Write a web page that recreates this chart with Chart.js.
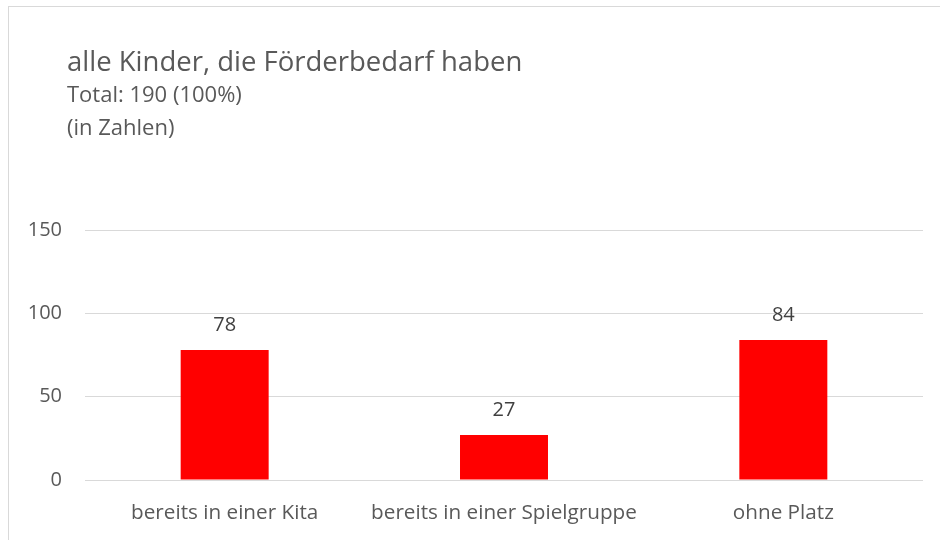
<!DOCTYPE html>
<html>
<head>
<meta charset="utf-8">
<script src="https://cdn.jsdelivr.net/npm/chart.js@4.4.1/dist/chart.umd.min.js"></script>
<style>
  html, body { margin: 0; padding: 0; background: #fff; overflow: hidden; }
  #frame {
    position: absolute; left: 8px; top: 6px; width: 960px; height: 560px;
    border-left: 1px solid #d9d9d9; border-top: 1px solid #d9d9d9;
  }
  #wrap { position: absolute; left: 0; top: 0; width: 940px; height: 540px; }
</style>
</head>
<body>
<div id="frame"></div>
<div id="wrap"><canvas id="chart" width="940" height="540"></canvas></div>
<script>
const categories = ['bereits in einer Kita', 'bereits in einer Spielgruppe', 'ohne Platz'];
const counts = [78, 27, 84];
const yTicks = [0, 50, 100, 150];
const titleText = 'alle Kinder, die Förderbedarf haben';
const subtitleLines = ['Total: 190 (100%)', '(in Zahlen)'];

const FONT = '"Open Sans", Lato, sans-serif';

// title block, drawn left-aligned at the frame's inner margin
const headerPlugin = {
    id: 'header',
    afterDraw(chart) {
        const ctx = chart.ctx;
        ctx.save();
        ctx.fillStyle = '#595959';
        ctx.textAlign = 'left';
        ctx.textBaseline = 'alphabetic';
        ctx.font = '27.5px ' + FONT;
        ctx.fillText(titleText, 67, 71);
        ctx.font = '22px ' + FONT;
        ctx.fillText(subtitleLines[0], 67, 102);
        ctx.fillText(subtitleLines[1], 67, 135);
        ctx.restore();
    }
};

// value labels above each bar
const valueLabels = {
    id: 'valueLabels',
    afterDatasetsDraw(chart) {
        const ctx = chart.ctx;
        const meta = chart.getDatasetMeta(0);
        ctx.save();
        ctx.fillStyle = '#404040';
        ctx.font = '20px ' + FONT;
        ctx.textAlign = 'center';
        ctx.textBaseline = 'middle';
        meta.data.forEach((bar, i) => {
            ctx.fillText(String(counts[i]), bar.x, bar.y - 25);
        });
        ctx.restore();
    }
};

new Chart(document.getElementById('chart'), {
    type: 'bar',
    data: {
        labels: categories,
        datasets: [{
            data: counts,
            backgroundColor: '#ff0000',
            categoryPercentage: 1,
            barPercentage: 0.315
        }]
    },
    options: {
        responsive: false,
        animation: false,
        layout: { padding: { top: 230, right: 17, bottom: 0, left: 0 } },
        plugins: {
            legend: { display: false },
            title: { display: false },
            tooltip: { enabled: false }
        },
        scales: {
            x: {
                grid: { display: false, drawTicks: false },
                border: { display: false },
                ticks: { color: '#595959', font: { family: FONT, size: 20.7 }, padding: 21, maxRotation: 0 },
                afterFit: s => { s.height = 60; }
            },
            y: {
                min: 0,
                max: 150,
                afterBuildTicks: s => { s.ticks = yTicks.map(v => ({ value: v })); },
                grid: { color: '#d9d9d9', lineWidth: 1, drawTicks: false },
                border: { display: false },
                ticks: { color: '#595959', font: { family: FONT, size: 20 }, padding: 23 },
                afterFit: s => { s.width = 85; }
            }
        }
    },
    plugins: [headerPlugin, valueLabels]
});
</script>
</body>
</html>
